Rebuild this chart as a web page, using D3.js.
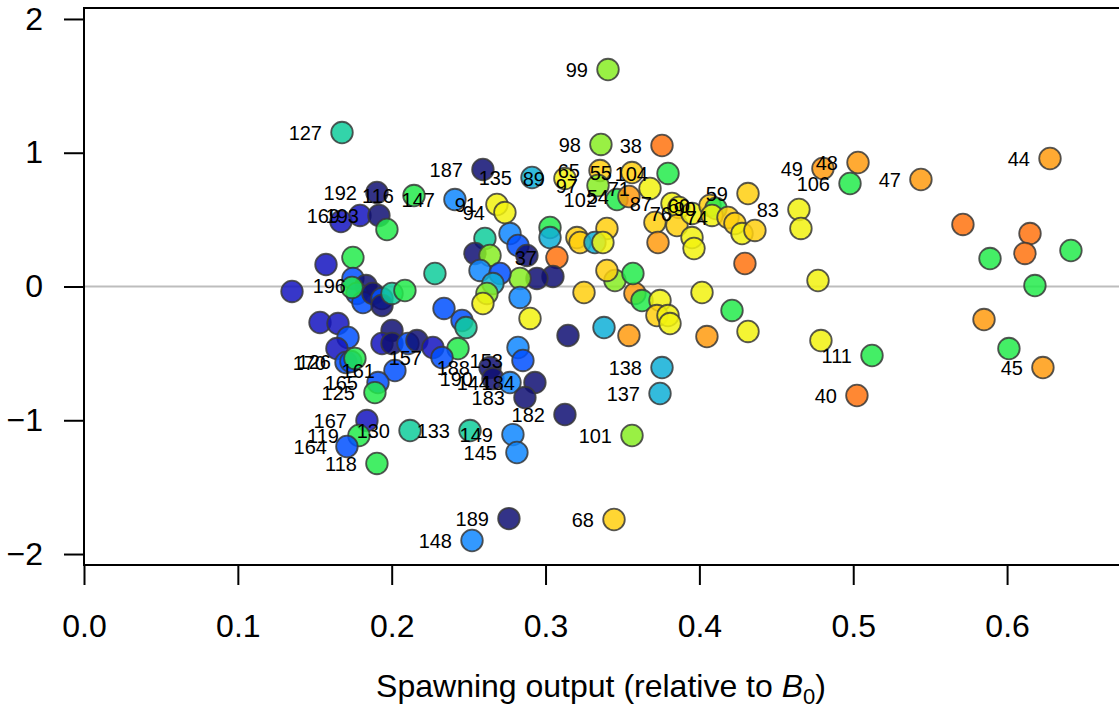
<!DOCTYPE html>
<html><head><meta charset="utf-8">
<script src="https://cdn.jsdelivr.net/npm/d3@7"></script>
<style>body{margin:0;background:#fff} text{font-family:"Liberation Sans",Arial,sans-serif}</style>
</head><body><svg id="c" width="1119" height="712"></svg>
<script>
// Spawning output relative to B0 (x) and deviation value (y), colour group, case label
const spawnRel = [0.3406,0.1677,0.3360,0.3757,0.2593,0.2912,0.3126,0.3354,0.3562,0.3796,
0.3341,0.3679,0.3464,0.3542,0.3822,0.3867,0.3711,0.3854,0.3952,0.4069,
0.4108,0.4082,0.4186,0.4231,0.4277,0.4361,0.4316,0.3952,0.3965,0.3731,
0.4296,0.4647,0.4660,0.4803,0.5031,0.4979,0.4771,0.5440,0.6279,0.5713,
0.6149,0.6116,0.5889,0.6415,0.6181,0.5850,0.6012,0.6233,0.5122,0.5024,
0.4790,0.3250,0.3451,0.3581,0.3627,0.3744,0.3724,0.3796,0.3809,0.4017,
0.4212,0.4316,0.3146,0.3380,0.3542,0.4049,0.3757,0.3744,0.3126,0.3562,
0.3568,0.3399,0.3204,0.3224,0.3399,0.3321,0.3373,0.3029,0.3029,0.3074,
0.3048,0.2944,0.2834,0.2834,0.2899,0.2606,0.2541,0.2639,0.2769,0.2821,
0.2879,0.2574,0.2704,0.2658,0.2619,0.2593,0.2340,0.2457,0.2483,0.2431,
0.2821,0.2853,0.2639,0.2658,0.2769,0.2931,0.2866,0.1904,0.2145,0.2411,
0.2684,0.2736,0.1670,0.1794,0.1917,0.1969,0.1573,0.1748,0.2281,0.1352,
0.1748,0.1833,0.1774,0.1813,0.1878,0.1937,0.1937,0.2002,0.2086,0.1742,
0.1534,0.1651,0.1716,0.1644,0.1703,0.1735,0.1761,0.2002,0.1937,0.2002,
0.2106,0.2164,0.2268,0.2327,0.2021,0.1911,0.1891,0.1839,0.2119,0.1787,
0.1709,0.1904,0.2509,0.2788,0.2814,0.2762,0.2522,0.3445];
const devValue = [1.622,1.151,1.062,1.054,0.875,0.815,0.807,0.867,0.852,0.845,
0.755,0.733,0.650,0.673,0.621,0.591,0.479,0.456,0.546,0.606,
0.583,0.531,0.516,0.471,0.396,0.419,0.695,0.366,0.284,0.329,
0.172,0.576,0.434,0.882,0.927,0.770,0.045,0.800,0.957,0.464,
0.396,0.247,0.209,0.269,0.007,-0.247,-0.464,-0.606,-0.516,-0.815,
-0.404,-0.045,0.045,-0.052,-0.105,-0.105,-0.217,-0.217,-0.277,-0.045,
-0.179,-0.336,-0.366,-0.307,-0.366,-0.374,-0.606,-0.800,-0.957,-1.114,
0.097,0.120,0.366,0.329,0.434,0.329,0.329,0.441,0.366,0.217,
0.075,0.060,0.060,-0.082,-0.239,0.359,0.247,0.232,0.396,0.307,
0.232,0.120,0.097,0.022,-0.052,-0.127,-0.164,-0.254,-0.307,-0.464,
-0.456,-0.553,-0.606,-0.688,-0.718,-0.718,-0.830,0.703,0.680,0.650,
0.613,0.553,0.486,0.531,0.531,0.426,0.164,0.217,0.097,-0.037,
0.060,0.007,-0.052,-0.120,-0.052,-0.090,-0.142,-0.052,-0.030,-0.007,
-0.269,-0.277,-0.381,-0.464,-0.568,-0.561,-0.538,-0.329,-0.426,-0.426,
-0.426,-0.404,-0.456,-0.531,-0.628,-0.718,-0.793,-1.002,-1.077,-1.114,
-1.196,-1.323,-1.077,-1.107,-1.241,-1.735,-1.899,-1.742];
// 0 navy .. 11 dark orange
const colourGroup = [7,5,7,11,0,4,8,9,9,6,
7,8,6,10,8,8,9,9,8,9,
6,8,9,9,8,9,9,8,8,10,
11,8,8,10,10,6,8,10,10,11,
11,11,6,6,6,10,6,10,6,11,
8,9,7,10,6,8,9,8,8,8,
6,8,0,4,10,10,4,4,0,7,
6,9,9,9,9,4,8,6,4,11,
0,0,7,3,8,5,0,7,3,2,
0,3,2,4,7,8,2,2,5,6,
3,2,0,0,3,0,0,0,6,3,
8,8,1,1,0,6,1,6,5,1,
2,0,2,2,0,2,0,5,6,6,
1,1,2,1,2,2,6,0,1,0,
2,0,1,2,2,2,6,1,5,6,
2,6,5,3,3,0,3,9];
const caseLabel = ["99","127","98","38","187","135","89","65","55","104",
"97","71","102","54","87","","","","76","60",
"90","","74","","","","59","","","",
"","83","","49","48","106","","47","44","",
"","","","","","","","45","111","40",
"","","","","","","","","","",
"","","","","","","138","137","182","101",
"","","","","","","","","","37",
"","","","","","","","","","",
"","","","","","","","","","",
"","153","188","190","144","184","183","192","116","147",
"91","94","","169","193","","","","","",
"","196","","","","","","","","",
"","","","","170","126","","","","",
"","","","157","161","165","125","167","130","119",
"164","118","133","149","145","189","148","68"];
const xTicks = [0,0.1,0.2,0.3,0.4,0.5,0.6];
const xTickLabels = ["0.0","0.1","0.2","0.3","0.4","0.5","0.6"];
const yTicks = [-2,-1,0,1,2];
const yTickLabels = ["\u22122","\u22121","0","1","2"];
const xTitle = "Spawning output (relative to ";

const palette = ["#0f0f73","#1414c0","#0050ff","#0f87ff","#0fafd7","#0fcc9b",
                 "#23eb4b","#87ed23","#f2f20f","#ffcf0f","#ff9b0f","#ff730f"];

const svg = d3.select("#c");
const x = d3.scaleLinear().domain([0, 0.676]).range([84, 1124]);
const y = d3.scaleLinear().domain([-2.082, 2.082]).range([565, 8]);
const col = d3.scaleOrdinal().domain(d3.range(12)).range(palette);

// zero reference line
svg.append("line").attr("x1", x(0)).attr("x2", x(0.676)).attr("y1", y(0)).attr("y2", y(0))
  .attr("stroke", "#bdbdbd").attr("stroke-width", 2);

const data = spawnRel.map((v, i) => ({x: v, y: devValue[i], g: colourGroup[i], lab: caseLabel[i]}));

svg.append("g").selectAll("circle").data(data).join("circle")
  .attr("cx", d => x(d.x)).attr("cy", d => y(d.y)).attr("r", 10.8)
  .attr("fill", d => col(d.g)).attr("fill-opacity", 0.85)
  .attr("stroke", "#3a3a3a").attr("stroke-opacity", 0.85).attr("stroke-width", 1.8);

svg.append("g").selectAll("text").data(data.filter(d => d.lab !== "")).join("text")
  .attr("x", d => x(d.x) - 20).attr("y", d => y(d.y)).attr("dy", "0.36em")
  .attr("text-anchor", "end").attr("font-size", 20).attr("fill", "#000").text(d => d.lab);

// box
svg.append("path")
  .attr("d", `M${x(0.676)},${y(2.082)}H${x(0)}V${y(-2.082)}H${x(0.676)}`)
  .attr("fill", "none").attr("stroke", "#000").attr("stroke-width", 2);

// axes
const xAxis = d3.axisBottom(x).tickValues(xTicks).tickFormat((d, i) => xTickLabels[i])
  .tickSize(20).tickSizeOuter(0).tickPadding(29);
const gx = svg.append("g").attr("transform", `translate(0,${y(-2.082)})`).call(xAxis);
gx.select(".domain").remove();
gx.selectAll("line").attr("stroke", "#000").attr("stroke-width", 2);
gx.selectAll("text").attr("font-size", 32).attr("font-family", "Liberation Sans, Arial, sans-serif").attr("fill", "#000");

const yAxis = d3.axisLeft(y).tickValues(yTicks).tickFormat((d, i) => yTickLabels[i])
  .tickSize(20).tickSizeOuter(0).tickPadding(21);
const gy = svg.append("g").attr("transform", `translate(${x(0)},0)`).call(yAxis);
gy.select(".domain").remove();
gy.selectAll("line").attr("stroke", "#000").attr("stroke-width", 2);
gy.selectAll("text").attr("font-size", 32).attr("font-family", "Liberation Sans, Arial, sans-serif").attr("fill", "#000");

// x title
const t = svg.append("text").attr("x", 601).attr("y", 697).attr("text-anchor", "middle")
  .attr("font-size", 32).attr("fill", "#000");
t.append("tspan").text(xTitle);
t.append("tspan").attr("font-style", "italic").text("B");
t.append("tspan").attr("font-size", 22).attr("dy", 7).text("0");
t.append("tspan").attr("dy", -7).text(")");
</script></body></html>
